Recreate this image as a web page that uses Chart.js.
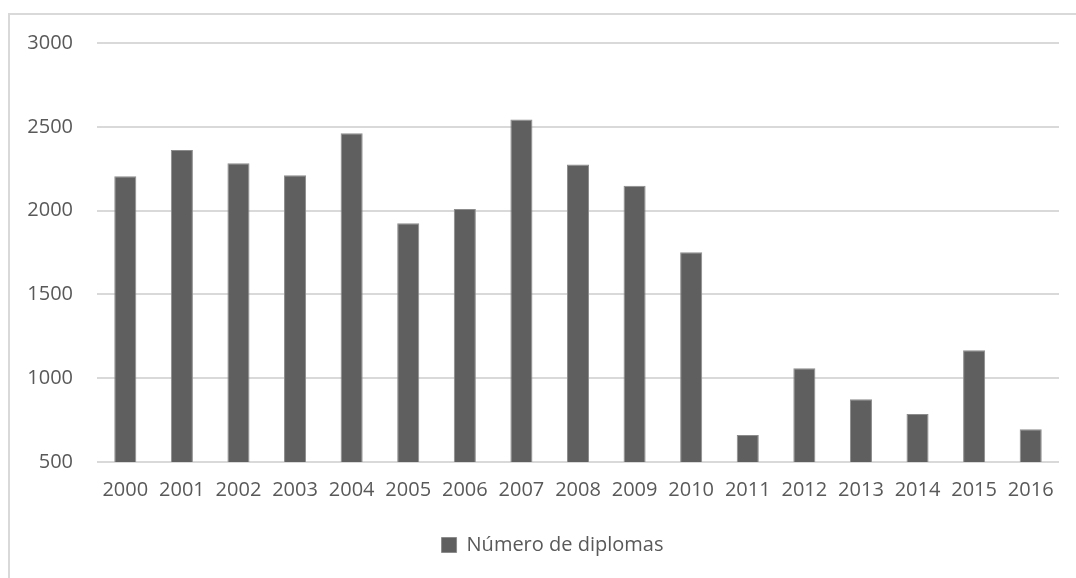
<!DOCTYPE html>
<html>
<head>
<meta charset="utf-8">
<script src="https://cdn.jsdelivr.net/npm/chart.js@4/dist/chart.umd.min.js"></script>
<style>
    html, body { margin: 0; padding: 0; background: #fff; overflow: hidden; }
    #wrap { position: relative; width: 1076px; height: 578px; }
    #frame {
        position: absolute; left: 8px; top: 13px; width: 1100px; height: 600px;
        border-left: 2px solid #d9d9d9; border-top: 2px solid #d9d9d9;
    }
    canvas { position: absolute; left: 0; top: 0; }
</style>
</head>
<body>
<div id="wrap">
    <div id="frame"></div>
    <canvas id="chart" width="1076" height="578"></canvas>
</div>
<script>
const years = ['2000', '2001', '2002', '2003', '2004', '2005', '2006', '2007', '2008',
    '2009', '2010', '2011', '2012', '2013', '2014', '2015', '2016'];
const diplomas = [2205, 2362, 2282, 2211, 2462, 1924, 2010, 2544, 2275,
    2148, 1751, 661, 1060, 875, 787, 1167, 695];
const yTicks = [500, 1000, 1500, 2000, 2500, 3000];
const seriesName = 'Número de diplomas';

const textColor = '#595959';
const font = { family: '"Open Sans", "Liberation Sans", sans-serif', size: 20 };

// legend sits a bit right of the canvas centre in the original
const shiftLegend = {
    id: 'shiftLegend',
    afterLayout(chart) {
        chart.legend.left += 23;
        chart.legend.right += 23;
    }
};

new Chart(document.getElementById('chart'), {
    type: 'bar',
    data: {
        labels: years,
        datasets: [{
            label: seriesName,
            data: diplomas,
            backgroundColor: '#5f5f5f',
            borderColor: '#8c8c8c',
            borderWidth: 1,
            borderSkipped: 'start',
            categoryPercentage: 1,
            barPercentage: 0.39
        }]
    },
    plugins: [shiftLegend],
    options: {
        responsive: false,
        animation: false,
        layout: { padding: { top: 43, right: 17, bottom: 13, left: 0 } },
        plugins: {
            tooltip: { enabled: false },
            legend: {
                position: 'bottom',
                labels: {
                    color: textColor,
                    font: font,
                    boxWidth: 15,
                    boxHeight: 15
                }
            }
        },
        scales: {
            x: {
                grid: { display: false, drawTicks: false },
                border: { display: false },
                ticks: { color: textColor, font: font, padding: 16, maxRotation: 0 },
                afterFit: s => { s.height = 63; }
            },
            y: {
                min: yTicks[0],
                max: yTicks[yTicks.length - 1],
                afterBuildTicks: s => { s.ticks = yTicks.map(v => ({ value: v })); },
                grid: { color: '#d9d9d9', lineWidth: 2, drawTicks: false },
                border: { display: false },
                ticks: {
                    color: textColor,
                    font: font,
                    padding: 24,
                    callback: v => String(v)
                },
                afterFit: s => { s.width = 97; }
            }
        }
    }
});
</script>
</body>
</html>
